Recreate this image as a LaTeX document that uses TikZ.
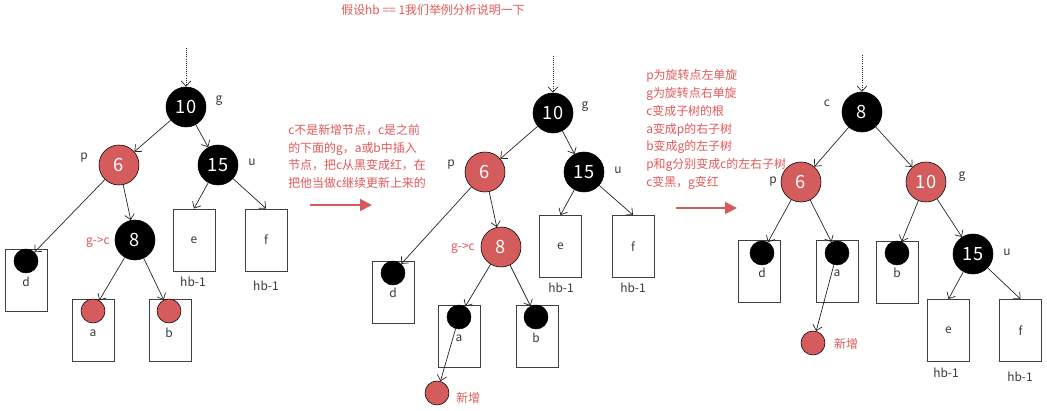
\documentclass[tikz,border=0pt]{standalone}
\usepackage{fontspec}
\setmainfont{Noto Sans CJK SC}
\usetikzlibrary{arrows.meta}
\definecolor{rbred}{RGB}{212,92,92}
\definecolor{rbtext}{RGB}{226,88,88}
\definecolor{rbgray}{RGB}{55,55,55}

\tikzset{
  blknode/.style={circle, draw=black, fill=black, text=white, minimum size=1cm,
                  inner sep=0pt, font=\fontsize{13}{15}\selectfont},
  rednode/.style={blknode, fill=rbred},
  blkdot/.style={circle, draw=black, fill=black, minimum size=0.6cm, inner sep=0pt},
  reddot/.style={blkdot, fill=rbred},
  subtree/.style={draw=black!75, line width=0.6pt, minimum width=1.05cm,
                  minimum height=1.55cm, inner sep=0pt, text=rbgray,
                  font=\fontsize{8.5}{10}\selectfont},
  lbl/.style={text=rbgray, inner sep=0pt, font=\fontsize{8.5}{10}\selectfont},
  redlbl/.style={lbl, text=rbtext},
  note/.style={text=rbtext, align=left, anchor=west, inner sep=0pt,
               font=\fontsize{8.5}{12.6}\selectfont},
  link/.style={-{Straight Barb[length=1.3mm,width=2.4mm]}, line width=0.5pt, black!85},
  bigarrow/.style={-{Triangle[length=3mm,width=3mm]}, line width=1.4pt, rbred}
}

\begin{document}
\begin{tikzpicture}[x=0.025cm, y=-0.025cm]
  \useasboundingbox (0,0) rectangle (1047,411);

  % title
  \node[redlbl] (title) at (433,10) {假设hb == 1我们举例分析说明一下};

  % ---- first tree ----
  \coordinate (topa) at (186,48);
  \node[blknode] (ga) at (186,107) {10};
  \node[lbl] at (219,101) {g};
  \node[rednode] (pa) at (119,165) {6};
  \node[lbl] at (84,158) {p};
  \node[blknode] (ua) at (218,165) {15};
  \node[lbl] at (252,162) {u};
  \node[blknode] (ca) at (135,240) {8};
  \node[redlbl] at (98,242) {g->c};

  \node[subtree] (bda) at (26.5,280.5) {};
  \node[blkdot] (dda) at (26,261) {};
  \node[lbl] at (26,282) {d};
  \node[subtree] (baa) at (93,330.5) {};
  \node[reddot] (daa) at (93,311) {};
  \node[lbl] at (93,333) {a};
  \node[subtree] (bba) at (170.5,330.5) {};
  \node[reddot] (dba) at (169,311) {};
  \node[lbl] at (169,333) {b};
  \node[subtree] (bea) at (194,240) {e};
  \node[lbl] at (193,282) {hb-1};
  \node[subtree] (bfa) at (266,240) {f};
  \node[lbl] at (266,286) {hb-1};

  \draw[link, densely dotted] (topa) -- (ga);
  \draw[link] (ga) -- (pa);
  \draw[link] (ga) -- (ua);
  \draw[link] (pa) -- (dda);
  \draw[link] (pa) -- (ca);
  \draw[link] (ca) -- (daa);
  \draw[link] (ca) -- (dba);
  \draw[link] (ua) -- (bea.north);
  \draw[link] (ua) -- (bfa.north);

  % first step
  \node[note] (stepa) at (288,156.5) {c不是新增节点，c是之前\\的下面的g，a或b中插入\\节点，把c从黑变成红，在\\把他当做c继续更新上来的};
  \coordinate (arra) at (310,205);
  \coordinate (arrb) at (372,205);
  \draw[bigarrow] (arra) -- (arrb);

  % ---- second tree ----
  \coordinate (topb) at (553,56);
  \node[blknode] (gb) at (553,113) {10};
  \node[lbl] at (585,107) {g};
  \node[rednode] (pb) at (485,172) {6};
  \node[lbl] at (451,165) {p};
  \node[blknode] (ub) at (584,172) {15};
  \node[lbl] at (618,170) {u};
  \node[rednode] (cb) at (501,247) {8};
  \node[redlbl] at (463,248) {g->c};

  \node[subtree] (bdb) at (393,292) {};
  \node[blkdot] (ddb) at (393,273) {};
  \node[lbl] at (393,293) {d};
  \node[subtree] (bab) at (459.5,336) {};
  \node[blkdot] (dab) at (459,317) {};
  \node[lbl] at (459,338) {a};
  \node[subtree] (bbb) at (537,336) {};
  \node[blkdot] (dbb) at (536,317) {};
  \node[lbl] at (536,338) {b};
  \node[subtree] (beb) at (560.5,246.5) {e};
  \node[lbl] at (561,288) {hb-1};
  \node[subtree] (bfb) at (633,246.5) {f};
  \node[lbl] at (633,288) {hb-1};
  \node[reddot] (newb) at (437,393) {};
  \node[redlbl] at (468,398) {新增};

  \draw[link, densely dotted] (topb) -- (gb);
  \draw[link] (gb) -- (pb);
  \draw[link] (gb) -- (ub);
  \draw[link] (pb) -- (ddb);
  \draw[link] (pb) -- (cb);
  \draw[link] (cb) -- (dab);
  \draw[link] (cb) -- (dbb);
  \draw[link] (ub) -- (beb.north);
  \draw[link] (ub) -- (bfb.north);
  \draw[link] (dab) -- (newb);

  % second step
  \node[note] (stepb) at (646,129.5) {p为旋转点左单旋\\g为旋转点右单旋\\c变成子树的根\\a变成p的右子树\\b变成g的左子树\\p和g分别变成c的左右子树\\c变黑，g变红};
  \coordinate (arrc) at (676,208);
  \coordinate (arrd) at (737,208);
  \draw[bigarrow] (arrc) -- (arrd);

  % ---- third tree ----
  \coordinate (topc) at (862,55);
  \node[blknode] (cc) at (862,112) {8};
  \node[lbl] at (827,103) {c};
  \node[rednode] (pc) at (801,182) {6};
  \node[lbl] at (773,182) {p};
  \node[rednode] (gc) at (926,182) {10};
  \node[lbl] at (962,177) {g};
  \node[blknode] (uc) at (973,254) {15};
  \node[lbl] at (1007,252) {u};

  \node[subtree] (bdc) at (759,271.5) {};
  \node[blkdot] (ddc) at (762,253) {};
  \node[lbl] at (762,273) {d};
  \node[subtree] (bac) at (837,271.5) {};
  \node[blkdot] (dac) at (837,253) {};
  \node[lbl] at (837,273) {a};
  \node[subtree] (bbc) at (897,272.5) {};
  \node[blkdot] (dbc) at (897,253) {};
  \node[lbl] at (897,273) {b};
  \node[subtree] (bec) at (948.5,330.5) {e};
  \node[lbl] at (946,373) {hb-1};
  \node[subtree] (bfc) at (1020.5,330.5) {f};
  \node[lbl] at (1020,377) {hb-1};
  \node[reddot] (newc) at (813,343) {};
  \node[redlbl] at (846,344) {新增};

  \draw[link, densely dotted] (topc) -- (cc);
  \draw[link] (cc) -- (pc);
  \draw[link] (cc) -- (gc);
  \draw[link] (pc) -- (ddc);
  \draw[link] (pc) -- (dac);
  \draw[link] (gc) -- (dbc);
  \draw[link] (gc) -- (uc);
  \draw[link] (uc) -- (bec.north);
  \draw[link] (uc) -- (bfc.north);
  \draw[link] (dac) -- (newc);
\end{tikzpicture}
\end{document}
